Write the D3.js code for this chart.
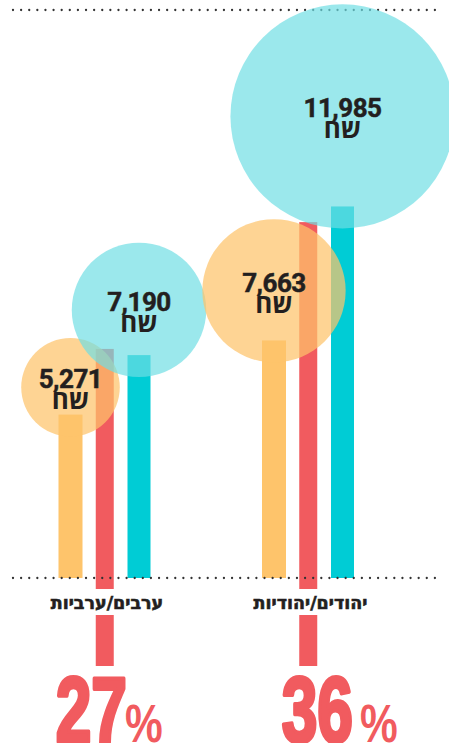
<!DOCTYPE html>
<html><head><meta charset="utf-8">
<script src="https://cdn.jsdelivr.net/npm/d3@7"></script>
<style>
html,body{margin:0;padding:0;background:#fff;}
svg{display:block;}
</style></head>
<body>
<script>
// ---- data ----
const groups = ["ערבים/ערביות", "יהודים/יהודיות"];
const women = [5271, 7663];     // orange
const men = [7190, 11985];      // cyan
const gapBar = [7390, 11480];   // red bar height (decorative)
const currency = "שח";
const seriesKeys = ["women", "gap", "men"];

// ---- layout ----
const W = 449, H = 743;
const baseY = 578;
const svg = d3.select("body").append("svg").attr("width", W).attr("height", H);

const gx = d3.scalePoint().domain(groups).range([105, 308.5]);
const sx = d3.scalePoint().domain(seriesKeys).range([-34.5, 34]);
const y = d3.scaleLinear().domain([0, 12000]).range([baseY, baseY - 372]);
const r = d3.scaleLinear().domain([0, 12000]).range([0, 112.2]);

const barW = {women: 24, gap: 18, men: 23};
const barColor = {women: "#FEC46B", gap: "#F15B5F", men: "#00CCD5"};
const ink = "#231F20";

const rows = groups.map((g, i) => ({g, i, women: women[i], men: men[i], gap: gapBar[i],
  pct: Math.round((men[i] - women[i]) / men[i] * 100)}));

// dotted lines
function dotted(yy) {
  svg.append("line").attr("x1", 13).attr("x2", 443).attr("y1", yy).attr("y2", yy)
    .attr("stroke", "#333").attr("stroke-width", 2.3).attr("stroke-linecap", "round")
    .attr("stroke-dasharray", "0 " + (430 / 53));
}
dotted(10);

// bars
const barBottomGap = 666;
rows.forEach(d => {
  seriesKeys.forEach(k => {
    const cx = gx(d.g) + sx(k);
    const top = y(d[k]);
    const bottom = k === "gap" ? barBottomGap : baseY;
    svg.append("rect").attr("x", cx - barW[k] / 2).attr("y", top)
      .attr("width", barW[k]).attr("height", bottom - top).attr("fill", barColor[k]);
  });
});

dotted(baseY);

// circles
const circ = [];
rows.forEach(d => {
  ["women", "men"].forEach(k => {
    const cx = gx(d.g) + sx(k);
    const rr = r(d[k]);
    const cy = y(d[k]) - rr + 22;
    circ.push({k, cx, cy, rr, v: d[k]});
  });
});
circ.forEach(c => {
  svg.append("circle").attr("cx", c.cx).attr("cy", c.cy).attr("r", c.rr)
    .attr("fill", c.k === "women" ? "#FEC46B" : "rgb(110,222,228)")
    .attr("fill-opacity", c.k === "women" ? 0.72 : 0.69);
});
circ.forEach(c => {
  svg.append("text").attr("x", c.cx).attr("y", c.cy + 1).attr("text-anchor", "middle")
    .attr("font-family", "Roboto, 'Liberation Sans', sans-serif").attr("font-weight", 700)
    .attr("font-size", 26).attr("fill", ink).attr("letter-spacing", -0.5)
    .attr("stroke", ink).attr("stroke-width", 0.5)
    .text(d3.format(",")(c.v));
  svg.append("text").attr("x", c.cx).attr("y", c.cy + 22).attr("text-anchor", "middle")
    .attr("font-family", "'Open Sans', 'DejaVu Sans', sans-serif").attr("font-weight", 700)
    .attr("font-size", 26).attr("fill", ink).text(currency);
});

// category labels
rows.forEach(d => {
  const t = svg.append("text").attr("x", gx(d.g) + 2).attr("y", 608.5).attr("text-anchor", "middle")
    .attr("font-family", "'DejaVu Sans', 'Open Sans', sans-serif").attr("font-weight", 700)
    .attr("font-size", 17.5).attr("fill", ink).attr("stroke", ink).attr("stroke-width", 0.6)
    .text(d.g);
  const bb = t.node().getBBox();
  svg.insert("rect", "text").attr("x", bb.x - 3).attr("y", 589)
    .attr("width", bb.width + 6).attr("height", 26).attr("fill", "#fff");
});

// percentages
const pctLayout = [{dEnd: 22, pStart: 20}, {dEnd: 44.5, pStart: 51.5}];
rows.forEach((d, i) => {
  const cx = gx(d.g);
  const dEnd = cx + pctLayout[i].dEnd;
  svg.append("text").attr("transform", `translate(${dEnd},742) scale(0.69,1)`)
    .attr("text-anchor", "end")
    .attr("font-family", "'Liberation Sans', sans-serif").attr("font-weight", 700)
    .attr("font-size", 93).attr("fill", "#F15B5F").attr("stroke", "#F15B5F").attr("stroke-width", 4)
    .attr("stroke-linejoin", "round")
    .text(d.pct);
  svg.append("text").attr("transform", `translate(${cx + pctLayout[i].pStart},742) scale(0.8,1)`)
    .attr("text-anchor", "start")
    .attr("font-family", "'Liberation Sans', sans-serif").attr("font-weight", 700)
    .attr("font-size", 53).attr("fill", "#F15B5F")
    .text("%");
});
</script>
</body></html>
